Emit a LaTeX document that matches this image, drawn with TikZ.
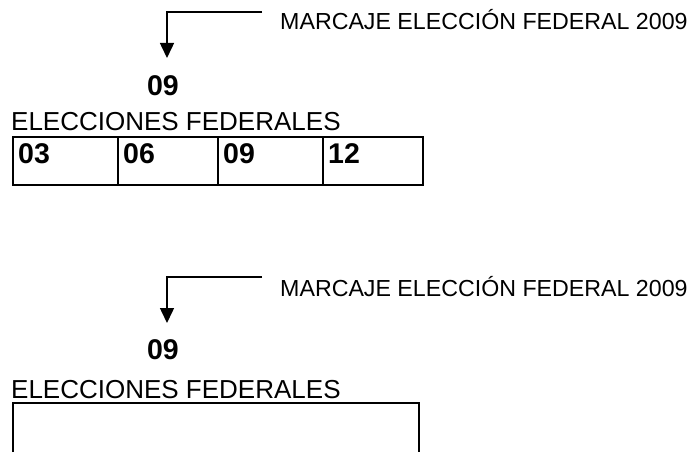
\documentclass[tikz,border=0pt]{standalone}
\usepackage{fontspec}
\setmainfont{Liberation Sans}
\usepackage{tikz}
\usetikzlibrary{arrows.meta, positioning}

\tikzset{
    marktext/.style={font=\fontsize{23.2}{27}\selectfont, inner sep=0pt},
    headtext/.style={font=\fontsize{26}{30}\selectfont, inner sep=0pt},
    numtext/.style={font=\fontsize{28.5}{32}\selectfont\bfseries, inner sep=0pt},
    cell/.style={draw, line width=2pt, minimum height=48pt, inner sep=0pt, anchor=north west},
    pointer/.style={line width=1.5pt, -{Triangle[width=14pt, length=15pt]}}
}

\begin{document}
\begin{tikzpicture}[x=1pt, y=-1pt]
    \useasboundingbox (0,0) rectangle (690,452);

    % upper block: marking with the four boxes
    \node[marktext, anchor=base west] (mark1) at (280,30) {MARCAJE ELECCIÓN FEDERAL 2009};
    \node[numtext, anchor=base] (year1) at (163,95) {09};
    \node[headtext, anchor=base west] (head1) at (11,130) {ELECCIONES FEDERALES};
    \coordinate (from1) at (262,12);
    \coordinate (tip1) at (167,58);
    \draw[pointer] (from1) -| (tip1);

    \foreach \n/\x/\w in {03/12/105, 06/117/100, 09/217/105, 12/322/100} {
        \node[cell, minimum width=\w pt] (cell\n) at (\x,136) {};
        \node[numtext, anchor=base west] (num\n) at ([xshift=6pt, yshift=-27pt]cell\n.north west) {\n};
    }

    % lower block: marking with the empty box
    \node[marktext, anchor=base west] (mark2) at (280,296) {MARCAJE ELECCIÓN FEDERAL 2009};
    \node[numtext, anchor=base] (year2) at (163,359) {09};
    \node[headtext, anchor=base west] (head2) at (11,398) {ELECCIONES FEDERALES};
    \coordinate (from2) at (262,277);
    \coordinate (tip2) at (167,323);
    \draw[pointer] (from2) -| (tip2);

    \draw[line width=2pt] (13,452) -- (13,403) -- (419,403) -- (419,452);
\end{tikzpicture}
\end{document}
